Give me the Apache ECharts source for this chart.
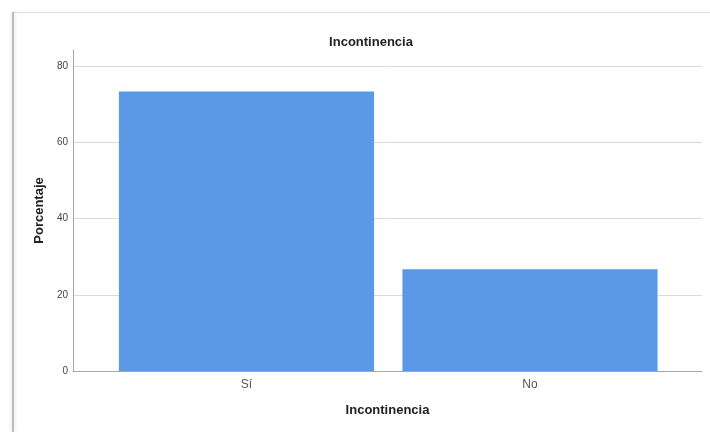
<!DOCTYPE html>
<html>
<head>
<meta charset="utf-8">
<script src="https://cdn.jsdelivr.net/npm/echarts@6/dist/echarts.min.js"></script>
<style>
html,body{margin:0;padding:0;background:#fff;}
#chart{width:710px;height:432px;}
</style>
</head>
<body>
<div id="chart"></div>
<script>
var categories = ['Sí', 'No'];
var percentages = [73.3, 26.7];
var yTicks = [0, 20, 40, 60, 80];
var chartTitle = 'Incontinencia';
var xAxisTitle = 'Incontinencia';
var yAxisTitle = 'Porcentaje';

var FONT = '"Liberation Sans", Arial, sans-serif';
var chart = echarts.init(document.getElementById('chart'));
var yMax = 84.2;

chart.setOption({
  animation: false,
  backgroundColor: '#ffffff',
  graphic: [
    { type: 'line', shape: { x1: 13, y1: 12.5, x2: 710, y2: 12.5 }, style: { stroke: '#e4e4e4', lineWidth: 1.5 }, z: 0 },
    { type: 'line', shape: { x1: 13, y1: 12, x2: 13, y2: 432 }, style: { stroke: '#bdbdbd', lineWidth: 2, shadowBlur: 4, shadowColor: 'rgba(0,0,0,0.15)' }, z: 0 }
  ],
  title: {
    text: chartTitle,
    left: 366,
    top: 31,
    textAlign: 'center',
    textStyle: { fontFamily: FONT, fontSize: 13, fontWeight: 'bold', color: '#222' }
  },
  grid: [
    { left: 73, right: 8, top: 50, bottom: 61 },
    { left: 104.75, right: 38.25, top: 50, bottom: 61 }
  ],
  xAxis: [
    {
      type: 'value', gridIndex: 0, min: 0, max: 1,
      axisLine: { show: true, lineStyle: { color: '#a6a6a6', width: 1 } },
      axisTick: { show: false },
      axisLabel: { show: false },
      splitLine: { show: false },
      name: xAxisTitle,
      nameLocation: 'middle',
      nameGap: 33,
      nameTextStyle: { fontFamily: FONT, fontSize: 13, fontWeight: 'bold', color: '#222' }
    },
    {
      type: 'category', gridIndex: 1, data: categories, boundaryGap: true,
      axisLine: { show: false },
      axisTick: { show: false },
      axisLabel: { margin: 8, fontFamily: FONT, fontSize: 12, color: '#555' }
    }
  ],
  yAxis: [
    {
      type: 'value', gridIndex: 0, min: yTicks[0], max: yMax, interval: 20,
      axisLine: { show: true, lineStyle: { color: '#a6a6a6', width: 1 } },
      axisTick: { show: false },
      axisLabel: { margin: 5, fontFamily: FONT, fontSize: 10, color: '#444', showMaxLabel: false },
      splitLine: { show: true, showMinLine: false, showMaxLine: false, lineStyle: { color: '#dadada', width: 1 } },
      name: yAxisTitle,
      nameLocation: 'middle',
      nameGap: 26,
      nameTextStyle: { fontFamily: FONT, fontSize: 13, fontWeight: 'bold', color: '#222' }
    },
    {
      type: 'value', gridIndex: 1, min: 0, max: yMax, show: false
    }
  ],
  series: [{
    type: 'bar',
    xAxisIndex: 1,
    yAxisIndex: 1,
    data: percentages,
    barCategoryGap: '10%',
    itemStyle: { color: '#5b98e6' },
    z: 1
  }]
});
</script>
</body>
</html>
